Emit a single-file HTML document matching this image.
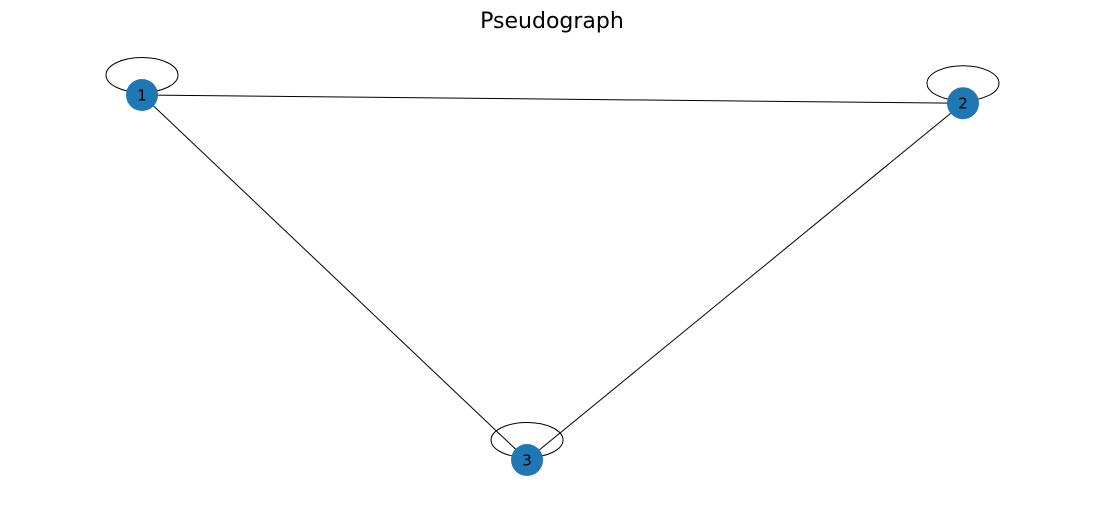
<!DOCTYPE html>
<html>
<head>
<meta charset="utf-8">
<style>
  html, body { margin: 0; padding: 0; background: #fff; }
  body { width: 1105px; height: 509px; overflow: hidden; }
  svg { display: block; }
</style>
</head>
<body>
<svg id="chart" width="1105" height="509" viewBox="0 0 1105 509">
  <text x="552" y="28" text-anchor="middle" font-family="DejaVu Sans, Liberation Sans, sans-serif" font-size="22" fill="#000">Pseudograph</text>
  <g id="edges"></g>
  <g id="nodes"></g>
</svg>
<script>
const nodeLabels = ["1", "2", "3"];
const nodeX = [0.0, 1.0, 0.469];
const nodeY = [0.0, 0.0225, 1.0];
const edgeSources = ["1", "1", "2", "1", "2", "3"];
const edgeTargets = ["2", "3", "3", "1", "2", "3"];

const svgNS = "http://www.w3.org/2000/svg";
const xScale = v => 142 + v * (963 - 142);
const yScale = v => 95 + v * (460 - 95);
const pos = {};
nodeLabels.forEach((l, i) => { pos[l] = [xScale(nodeX[i]), yScale(nodeY[i])]; });

const eg = document.getElementById('edges');
edgeSources.forEach((s, i) => {
  const t = edgeTargets[i];
  const [x1, y1] = pos[s];
  const [x2, y2] = pos[t];
  let el;
  if (s === t) {
    el = document.createElementNS(svgNS, 'ellipse');
    el.setAttribute('cx', x1);
    el.setAttribute('cy', y1 - 20);
    el.setAttribute('rx', 36);
    el.setAttribute('ry', 17.5);
    el.setAttribute('fill', 'none');
    
  } else {
    el = document.createElementNS(svgNS, 'line');
    el.setAttribute('x1', x1); el.setAttribute('y1', y1);
    el.setAttribute('x2', x2); el.setAttribute('y2', y2);
    
  }
  el.setAttribute('stroke', '#000');
  el.setAttribute('stroke-width', '1');
  
  eg.appendChild(el);
});

const ng = document.getElementById('nodes');
nodeLabels.forEach(l => {
  const [x, y] = pos[l];
  const c = document.createElementNS(svgNS, 'circle');
  c.setAttribute('cx', x); c.setAttribute('cy', y); c.setAttribute('r', 16);
  c.setAttribute('fill', '#1f78b4');
  
  
  ng.appendChild(c);
  const tx = document.createElementNS(svgNS, 'text');
  tx.setAttribute('x', x); tx.setAttribute('y', y + 5.5);
  tx.setAttribute('text-anchor', 'middle');
  tx.setAttribute('font-family', 'DejaVu Sans, Liberation Sans, sans-serif');
  tx.setAttribute('font-size', '15');
  tx.setAttribute('fill', '#000');
  tx.textContent = l;
  
  
  ng.appendChild(tx);
});
</script>
</body>
</html>
